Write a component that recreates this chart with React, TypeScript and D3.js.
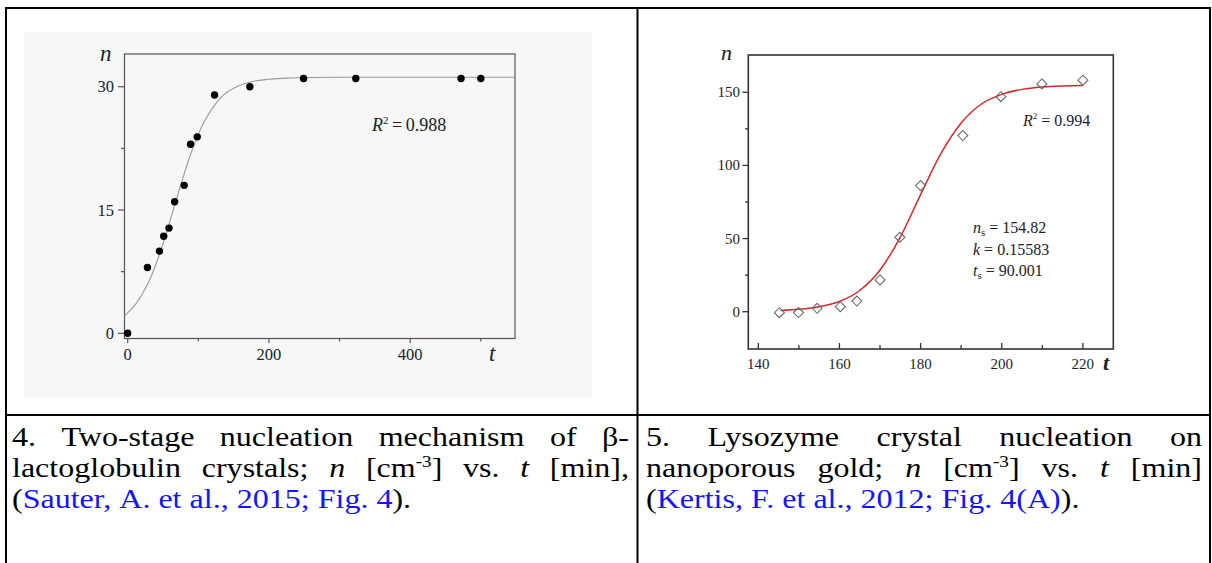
import React from "react";
import * as d3 from "d3";

// ---------- data ----------
const leftT = [0, 28, 45, 51, 58.5, 66.5, 80, 89, 98.5, 123, 173, 249, 323, 472, 500];
const leftN = [0, 8, 10, 11.8, 12.8, 16, 18, 23, 23.9, 29, 30, 31, 31, 31, 31];
const leftFitT = [-4.5, 0, 10, 20, 30, 40, 50, 60, 70, 80, 90, 100, 110, 120, 130, 140, 150, 160, 180, 200, 225, 250, 300, 400, 548];
const leftFitN = [2.1, 2.5, 3.4, 4.7, 6.3, 8.4, 10.9, 13.7, 16.6, 19.4, 22.0, 24.2, 26.0, 27.4, 28.5, 29.3, 29.8, 30.2, 30.7, 30.9, 31.05, 31.1, 31.15, 31.15, 31.15];
const leftXTicks = [0, 200, 400];
const leftXMinor = [100, 300, 500];
const leftYTicks = [0, 15, 30];
const leftYMinor = [7.5, 22.5];

const rightT = [145.2, 149.9, 154.5, 160.2, 164.3, 170, 174.9, 180, 190.4, 199.8, 209.9, 220];
const rightN = [-0.7, -0.6, 2.3, 3.4, 7.3, 21.7, 50.9, 86.2, 120.4, 147, 155.7, 158.3];
const rightFitT = [145.5, 150, 155, 160, 165, 170, 175, 180, 185, 190, 195, 200, 205, 210, 215, 220];
const rightFitN = [0.8, 1.6, 3.4, 7.0, 14.5, 28.5, 51, 80, 108, 129, 142, 148.6, 152, 153.6, 154.3, 154.6];
const rightXTicks = [140, 160, 180, 200, 220];
const rightXMinor = [150, 170, 190, 210];
const rightYTicks = [0, 50, 100, 150];
const rightYMinor = [25, 75, 125];

const SERIF = '"Liberation Serif", "Times New Roman", serif';
const BLUE = "#1414ff";

type Seg = { t: string; i?: boolean; sup?: boolean; c?: string };
type Word = Seg[];
const w = (t: string): Word => [{ t }];
const b = (t: string): Word => [{ t, c: BLUE }];

const leftLines: { words: Word[]; justify: boolean }[] = [
  { words: [w("4."), w("Two-stage"), w("nucleation"), w("mechanism"), w("of"), w("β-")], justify: true },
  {
    words: [w("lactoglobulin"), w("crystals;"), [{ t: "n", i: true }], [{ t: "[cm" }, { t: "-3", sup: true }, { t: "]" }], w("vs."), [{ t: "t", i: true }], w("[min],")],
    justify: true,
  },
  { words: [[{ t: "(" }, { t: "Sauter,", c: BLUE }], b("A."), b("et"), b("al.,"), b("2015;"), b("Fig."), [{ t: "4", c: BLUE }, { t: ")." }]], justify: false },
];
const rightLines: { words: Word[]; justify: boolean }[] = [
  { words: [w("5."), w("Lysozyme"), w("crystal"), w("nucleation"), w("on")], justify: true },
  {
    words: [w("nanoporous"), w("gold;"), [{ t: "n", i: true }], [{ t: "[cm" }, { t: "-3", sup: true }, { t: "]" }], w("vs."), [{ t: "t", i: true }], w("[min]")],
    justify: true,
  },
  { words: [[{ t: "(" }, { t: "Kertis,", c: BLUE }], b("F."), b("et"), b("al.,"), b("2012;"), b("Fig."), [{ t: "4(A)", c: BLUE }, { t: ")." }]], justify: false },
];

const CAP_SIZE = 27.5;
const CAP_SX = 1.165;
const LINE_Y = [446, 477, 508];

let ctx: CanvasRenderingContext2D | null = null;
function measure(s: Seg, size: number) {
  if (!ctx) ctx = document.createElement("canvas").getContext("2d");
  const fs = s.sup ? size * 0.6 : size;
  ctx!.font = `${s.i ? "italic " : ""}${fs}px "Liberation Serif"`;
  return ctx!.measureText(s.t).width * CAP_SX;
}
function wordWidth(wd: Word, size: number) {
  return wd.reduce((a, s) => a + measure(s, size), 0);
}

function Caption({ lines, x0, x1 }: { lines: { words: Word[]; justify: boolean }[]; x0: number; x1: number }) {
  const size = CAP_SIZE;
  const out: React.ReactNode[] = [];
  lines.forEach((ln, li) => {
    const widths = ln.words.map((wd) => wordWidth(wd, size));
    const total = widths.reduce((a, v) => a + v, 0);
    const space = measure({ t: " " }, size);
    const gap = ln.justify ? (x1 - x0 - total) / (ln.words.length - 1) : space;
    let x = x0;
    ln.words.forEach((wd, wi) => {
      out.push(
        <text
          key={`${li}-${wi}`}
          transform={`translate(${x},${LINE_Y[li]}) scale(${CAP_SX},1)`}
          fontFamily={SERIF}
          fontSize={size}
          fill="#000"
        >
          {wd.map((s, si) => {
            if (s.sup) {
              return (
                <tspan key={si} dy={-size * 0.38} fontSize={size * 0.6} fill={s.c || "#000"}>
                  {s.t}
                </tspan>
              );
            }
            const prevSup = si > 0 && wd[si - 1].sup;
            return (
              <tspan key={si} dy={prevSup ? size * 0.38 : undefined} fontStyle={s.i ? "italic" : "normal"} fill={s.c || "#000"}>
                {s.t}
              </tspan>
            );
          })}
        </text>
      );
      x += widths[wi] + gap;
    });
  });
  return <g>{out}</g>;
}

function LeftChart() {
  const x = d3.scaleLinear().domain([-4.5, 548.4]).range([124.5, 515]);
  const y = d3.scaleLinear().domain([-0.63, 33.98]).range([338.5, 54]);
  const fit = d3
    .line<number>()
    .x((d, i) => x(leftFitT[i]))
    .y((d) => y(d))
    .curve(d3.curveMonotoneX)(leftFitN);
  const axisC = "#555";
  return (
    <g>
      <rect x={24} y={32} width={568} height={366} fill="#f7f7f7" />
      <rect x={124.5} y={54} width={390.5} height={284.5} fill="none" stroke={axisC} strokeWidth={1.2} />
      {leftXTicks.map((t) => (
        <g key={t}>
          <line x1={x(t)} x2={x(t)} y1={338.5} y2={343} stroke={axisC} strokeWidth={1.2} />
          <text x={x(t)} y={360} textAnchor="middle" fontFamily={SERIF} fontSize={16.5} fill="#222">
            {t}
          </text>
        </g>
      ))}
      {leftXMinor.map((t) => (
        <line key={t} x1={x(t)} x2={x(t)} y1={338.5} y2={341.5} stroke={axisC} strokeWidth={1.2} />
      ))}
      {leftYTicks.map((v) => (
        <g key={v}>
          <line x1={118} x2={124.5} y1={y(v)} y2={y(v)} stroke={axisC} strokeWidth={1.2} />
          <text x={114} y={y(v) + 5.5} textAnchor="end" fontFamily={SERIF} fontSize={16.5} fill="#222">
            {v}
          </text>
        </g>
      ))}
      {leftYMinor.map((v) => (
        <line key={v} x1={121} x2={124.5} y1={y(v)} y2={y(v)} stroke={axisC} strokeWidth={1.2} />
      ))}
      <path d={fit || ""} fill="none" stroke="#9a9a9a" strokeWidth={1.1} />
      {leftT.map((t, i) => (
        <circle key={i} cx={x(t)} cy={y(leftN[i])} r={3.7} fill="#000" />
      ))}
      <text x={100} y={61} fontFamily={SERIF} fontSize={23} fontStyle="italic" fill="#222">
        n
      </text>
      <text x={489} y={361} fontFamily={SERIF} fontSize={23} fontStyle="italic" fill="#222">
        t
      </text>
      <text x={372} y={131} fontFamily={SERIF} fontSize={18} fill="#222">
        <tspan fontStyle="italic">R</tspan>
        <tspan dy={-7} fontSize={11}>2</tspan>
        <tspan dy={7}>{"\u2009=\u20090.988"}</tspan>
      </text>
    </g>
  );
}

function RightChart() {
  const x = d3.scaleLinear().domain([137.53, 227.5]).range([748.3, 1113.3]);
  const y = d3.scaleLinear().domain([-25.5, 175.5]).range([349, 55]);
  const fit = d3
    .line<number>()
    .x((d, i) => x(rightFitT[i]))
    .y((d) => y(d))
    .curve(d3.curveMonotoneX)(rightFitN);
  const axisC = "#333";
  const diamond = (cx: number, cy: number) => `M${cx},${cy - 5}L${cx + 5},${cy}L${cx},${cy + 5}L${cx - 5},${cy}Z`;
  return (
    <g>
      <rect x={748.3} y={55} width={365} height={294} fill="none" stroke={axisC} strokeWidth={1.6} />
      {rightXTicks.map((t) => (
        <g key={t}>
          <line x1={x(t)} x2={x(t)} y1={349} y2={343} stroke={axisC} strokeWidth={1.3} />
          <text x={x(t)} y={369} textAnchor="middle" fontFamily={SERIF} fontSize={15} fill="#222">
            {t}
          </text>
        </g>
      ))}
      {rightXMinor.map((t) => (
        <line key={t} x1={x(t)} x2={x(t)} y1={349} y2={345} stroke={axisC} strokeWidth={1.3} />
      ))}
      {rightYTicks.map((v) => (
        <g key={v}>
          <line x1={742.5} x2={748.3} y1={y(v)} y2={y(v)} stroke={axisC} strokeWidth={1.3} />
          <text x={740} y={y(v) + 5} textAnchor="end" fontFamily={SERIF} fontSize={15} fill="#222">
            {v}
          </text>
        </g>
      ))}
      {rightYMinor.map((v) => (
        <line key={v} x1={745} x2={748.3} y1={y(v)} y2={y(v)} stroke={axisC} strokeWidth={1.3} />
      ))}
      <path d={fit || ""} fill="none" stroke="#d12a2a" strokeWidth={1.5} />
      {rightT.map((t, i) => (
        <path key={i} d={diamond(x(t), y(rightN[i]))} fill="#fff" fillOpacity={0} stroke="#6a6a6a" strokeWidth={1.1} />
      ))}
      <text x={721} y={60} fontFamily={SERIF} fontSize={22} fontStyle="italic" fill="#222">
        n
      </text>
      <text x={1103} y={370} fontFamily={SERIF} fontSize={22} fontStyle="italic" fontWeight="bold" fill="#222">
        t
      </text>
      <text x={1023} y={126} fontFamily={SERIF} fontSize={16} fill="#222">
        <tspan fontStyle="italic">R</tspan>
        <tspan dy={-7} fontSize={9}>2</tspan>
        <tspan dy={7}> = 0.994</tspan>
      </text>
      <text x={973} y={233} fontFamily={SERIF} fontSize={16} fill="#222">
        <tspan fontStyle="italic">n</tspan>
        <tspan dy={3} fontSize={11}>s</tspan>
        <tspan dy={-3}>  = 154.82</tspan>
      </text>
      <text x={973} y={255} fontFamily={SERIF} fontSize={16} fill="#222">
        <tspan fontStyle="italic">k</tspan>
        <tspan> = 0.15583</tspan>
      </text>
      <text x={973} y={276} fontFamily={SERIF} fontSize={16} fill="#222">
        <tspan fontStyle="italic">t</tspan>
        <tspan dy={3} fontSize={11}>s</tspan>
        <tspan dy={-3}> = 90.001</tspan>
      </text>
    </g>
  );
}

export default function App() {
  return (
    <svg width={1212} height={563} style={{ position: "fixed", left: 0, top: 0, background: "#fff" }}>
      <rect x={0} y={0} width={1212} height={563} fill="#fff" />
      <LeftChart />
      <RightChart />
      {/* table grid */}
      <g stroke="#000" strokeWidth={2}>
        <line x1={5} x2={1211} y1={8} y2={8} />
        <line x1={6} x2={6} y1={7} y2={563} />
        <line x1={637.5} x2={637.5} y1={7} y2={563} />
        <line x1={1210} x2={1210} y1={7} y2={563} />
        <line x1={5} x2={1211} y1={415} y2={415} />
      </g>
      <Caption lines={leftLines} x0={12} x1={629} />
      <Caption lines={rightLines} x0={646} x1={1202} />
    </svg>
  );
}
